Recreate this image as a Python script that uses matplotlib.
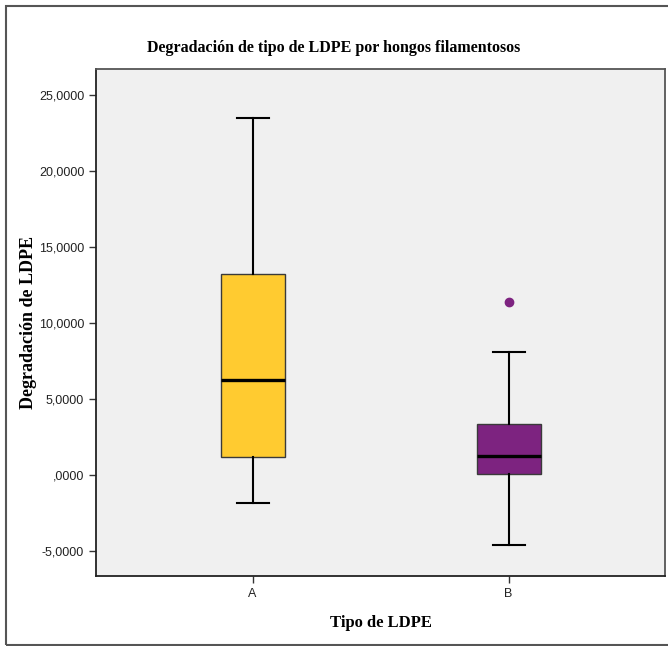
import matplotlib
matplotlib.use("Agg")
import matplotlib.pyplot as plt
from matplotlib.patches import Rectangle
from matplotlib.ticker import FuncFormatter, MultipleLocator

# values
groups = ["A", "B"]
q1 = [1.18, 0.09]
medians = [6.27, 1.29]
q3 = [13.22, 3.37]
whislo = [-1.84, -4.63]
whishi = [23.49, 8.11]
outliers = [[], [11.38]]
box_colors = ["#FFCB30", "#7D2380"]


def spss_fmt(v, pos):
    s = f"{v:.4f}".replace(".", ",")
    if s.startswith("0,"):
        s = s[1:]
    if s.startswith("-0,"):
        s = "-" + s[2:]
    return s


def main() -> None:
    fig = plt.figure(figsize=(6.68, 6.46), dpi=100)
    fig.patch.set_facecolor("white")
    ax = fig.add_axes([96 / 668, 1 - 576 / 646, (665 - 96) / 668, (576 - 69) / 646])
    ax.set_facecolor("#F0F0F0")

    stats = []
    for i, g in enumerate(groups):
        stats.append(
            {
                "label": g,
                "q1": q1[i],
                "med": medians[i],
                "q3": q3[i],
                "whislo": whislo[i],
                "whishi": whishi[i],
                "fliers": outliers[i],
            }
        )

    bp = ax.bxp(
        stats,
        positions=[1, 2],
        widths=0.25,
        patch_artist=True,
        showfliers=True,
        boxprops=dict(edgecolor="#3a3a3a", linewidth=1.0),
        medianprops=dict(color="black", linewidth=2.4),
        whiskerprops=dict(color="black", linewidth=1.5),
        capprops=dict(color="black", linewidth=1.5),
        capwidths=0.125,
    )
    for patch, c in zip(bp["boxes"], box_colors):
        patch.set_facecolor(c)
    for fl, c in zip(bp["fliers"], box_colors):
        fl.set_marker("o")
        fl.set_markerfacecolor(c)
        fl.set_markeredgecolor(c)
        fl.set_markersize(6)

    ax.set_xlim(0.388, 2.611)
    ax.set_ylim(-6.64, 26.73)
    ax.yaxis.set_major_locator(MultipleLocator(5))
    ax.yaxis.set_major_formatter(FuncFormatter(spss_fmt))
    ax.set_xticks([1, 2])
    ax.set_xticklabels(groups)

    ax.tick_params(axis="both", direction="out", length=5, width=1.0,
                   color="#333333", labelsize=9, labelcolor="#222222")
    for lab in ax.get_xticklabels() + ax.get_yticklabels():
        lab.set_family("Liberation Sans")

    for side in ["left", "bottom"]:
        ax.spines[side].set_color("#222222")
        ax.spines[side].set_linewidth(1.3)
    for side in ["top", "right"]:
        ax.spines[side].set_color("#555555")
        ax.spines[side].set_linewidth(1.3)

    ax.set_ylabel("Degradación de LDPE", family="Liberation Serif",
                  fontweight="bold", fontsize=13, labelpad=1.5)
    ax.set_xlabel("Tipo de LDPE", family="Liberation Serif",
                  fontweight="bold", fontsize=12, labelpad=11)
    fig.text(0.5, 1 - 48 / 646, "Degradación de tipo de LDPE por hongos filamentosos",
             ha="center", va="center", family="Liberation Serif",
             fontweight="bold", fontsize=11.5)

    # outer frame of the SPSS chart window
    fig.patches.append(
        Rectangle((6 / 668, 1 / 646), 1.2, 1 - 7 / 646, transform=fig.transFigure,
                  fill=False, edgecolor="#555555", linewidth=1.5)
    )

    fig.savefig("out.png", dpi=100)
    plt.close(fig)


if __name__ == "__main__":
    main()
